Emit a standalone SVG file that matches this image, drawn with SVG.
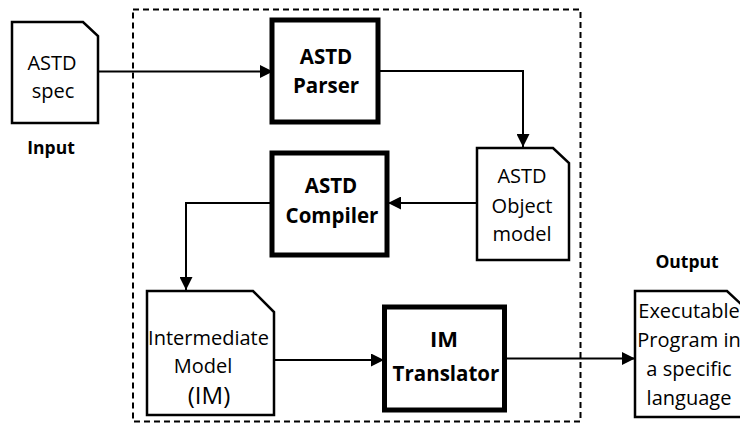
<svg xmlns="http://www.w3.org/2000/svg" width="740" height="423" viewBox="0 0 740 423">
<defs>
<marker id="ah" viewBox="0 0 12 12" refX="12" refY="6" markerWidth="13" markerHeight="13" markerUnits="userSpaceOnUse" orient="auto">
<path d="M0,0 L12,6 L0,12 Z" fill="#000"/>
</marker>
<style>
.doc{fill:#fff;stroke:#000;stroke-width:2.5;stroke-linejoin:miter}
.proc{fill:#fff;stroke:#000;stroke-width:5}
.conn{fill:none;stroke:#000;stroke-width:2}
.t{font-family:"Open Sans","Liberation Sans",sans-serif;font-size:20px;fill:#000;text-anchor:middle;dominant-baseline:central}
.b{font-family:"Open Sans","Liberation Sans",sans-serif;font-size:20.5px;font-weight:bold;fill:#000;text-anchor:middle;dominant-baseline:central}
.lbl{font-family:"Open Sans","Liberation Sans",sans-serif;font-size:17.5px;font-weight:bold;fill:#000;text-anchor:middle;dominant-baseline:central}
</style>
</defs>
<rect width="740" height="423" fill="#fff"/>
<rect id="boundary" x="133" y="9.5" width="447.5" height="412" fill="none" stroke="#000" stroke-width="2" stroke-dasharray="6,4"/>
<g id="connectors">
<path class="conn" d="M98,71.5 H273" marker-end="url(#ah)"/>
<path class="conn" d="M378,71 H523 V147" marker-end="url(#ah)"/>
<path class="conn" d="M477,203 H388" marker-end="url(#ah)"/>
<path class="conn" d="M272,203 H186 V290" marker-end="url(#ah)"/>
<path class="conn" d="M274,360 H384" marker-end="url(#ah)"/>
<path class="conn" d="M505,358.5 H635" marker-end="url(#ah)"/>
</g>
<g id="astd-spec">
<path class="doc" d="M12,22 H83 L98,36 V123 H12 Z"/>
<text class="t" x="52" y="62">ASTD</text>
<text class="t" x="53" y="90">spec</text>
</g>
<g id="input-label"><text class="lbl" x="51" y="147">Input</text></g>
<g id="parser">
<rect class="proc" x="272" y="20" width="106" height="102"/>
<text class="b" x="326" y="56">ASTD</text>
<text class="b" x="326" y="85">Parser</text>
</g>
<g id="object-model">
<path class="doc" d="M477,148 H553 L569,163 V260 H477 Z"/>
<text class="t" x="522" y="175">ASTD</text>
<text class="t" x="522" y="205">Object</text>
<text class="t" x="522" y="233">model</text>
</g>
<g id="compiler">
<rect class="proc" x="272" y="153" width="115" height="102"/>
<text class="b" x="331" y="185">ASTD</text>
<text class="b" x="332" y="215">Compiler</text>
</g>
<g id="intermediate-model">
<path class="doc" d="M147,291 H253 L274,312 V415 H147 Z"/>
<text class="t" x="208.5" y="337">Intermediate</text>
<text class="t" x="203" y="365">Model</text>
<text class="t" x="209" y="394" style="font-size:24px">(IM)</text>
</g>
<g id="translator">
<rect class="proc" x="384.5" y="307" width="120" height="103"/>
<text class="b" x="444" y="338" style="font-size:22px">IM</text>
<text class="b" x="446" y="373">Translator</text>
</g>
<g id="output-label"><text class="lbl" x="687" y="261">Output</text></g>
<g id="executable">
<path class="doc" d="M635,291 H727 L742,305 V417 H635 Z"/>
<text class="t" x="689" y="310">Executable</text>
<text class="t" x="689" y="339">Program in</text>
<text class="t" x="689" y="368">a specific</text>
<text class="t" x="689" y="397">language</text>
</g>
</svg>
